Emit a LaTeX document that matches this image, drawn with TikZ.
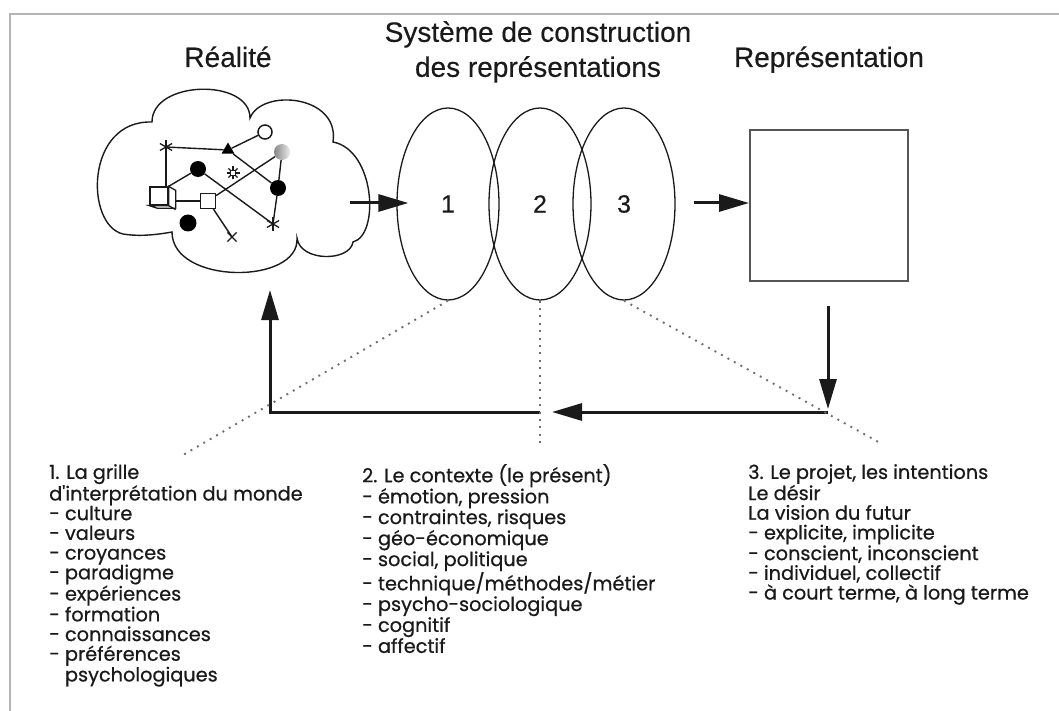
\documentclass[tikz,border=0pt]{standalone}
\usepackage{fontspec}
\setmainfont{Liberation Sans}
\newfontfamily\bodyfont[FakeBold=0.6]{Poppins}
\newfontfamily\titlefont[FakeBold=0.3]{Liberation Sans}
\usetikzlibrary{shapes.geometric,arrows.meta}
\definecolor{ink}{HTML}{1A1A1A}
\definecolor{framegray}{HTML}{B4B4B4}
\definecolor{dotgray}{HTML}{6E6E6E}
\definecolor{boxgray}{HTML}{555555}
\begin{document}
\begin{tikzpicture}[x=1pt,y=-1pt,
  net/.style={line width=1.4pt, draw=ink},
  arr/.style={line width=3pt, draw=ink, -{Triangle[length=30pt,width=17pt]}},
  dotline/.style={line width=1.9pt, draw=dotgray, dash pattern=on 1.9pt off 5.5pt},
  oval/.style={ellipse, draw=ink, line width=1.3pt, minimum width=102pt, minimum height=192pt, inner sep=0pt, font=\titlefont\fontsize{25}{25}\selectfont, text=ink},
  title/.style={font=\titlefont\fontsize{28}{35}\selectfont, text=ink, align=center, inner sep=0pt},
  body/.style={font=\bodyfont\fontsize{19.3}{19.7}\selectfont, text=ink, align=left, inner sep=0pt, anchor=north west},
  dot/.style={circle, fill=black, inner sep=0pt, minimum size=16pt},
]
\useasboundingbox (0,0) rectangle (1059,711);
\fill[white] (0,0) rectangle (1059,711);
\draw[framegray, line width=2.5pt] (10,711) -- (10,14) -- (1059,14);

% titles
\node[title, anchor=base] (tReal) at (228,67) {Réalité};
\node[title, anchor=north] (tSys) at (538,21) {Système de construction\\des représentations};
\node[title, anchor=base] (tRep) at (829,67) {Représentation};

% cloud
\draw[net] (152,122) .. controls (152,80) and (250,78) .. (250,118)
 .. controls (262,88) and (340,95) .. (333,142)
 .. controls (375,150) and (380,235) .. (353,242)
 .. controls (350,262) and (300,262) .. (297,238)
 .. controls (300,285) and (172,285) .. (172,232)
 .. controls (150,236) and (135,236) .. (123,234)
 .. controls (85,225) and (85,120) .. (152,122) -- cycle;

% network symbols
\coordinate (A1) at (166,147);
\node[regular polygon, regular polygon sides=3, fill=black, inner sep=0pt, minimum size=15pt] (T) at (228,150) {};
\node[circle, draw=ink, line width=1.5pt, fill=white, inner sep=0pt, minimum size=14pt] (O) at (265,132) {};
\node[circle, inner sep=0pt, minimum size=16pt, left color=gray!95, right color=gray!15] (G) at (282,152) {};
\node[dot] (B1) at (198,169) {};
\coordinate (S) at (233,173);
\node[dot] (B2) at (278,188) {};
\node[draw=ink, line width=1.3pt, fill=white, inner sep=0pt, minimum size=18pt] (C) at (159,196) {};
\node[draw=ink, line width=1.3pt, fill=white, inner sep=0pt, minimum size=15pt] (Q) at (208,201) {};
\node[dot, minimum size=17pt] (B3) at (188,223) {};
\coordinate (A2) at (273,224);
\coordinate (X) at (232,237);

% network lines
\draw[net] (A1) -- (T);
\draw[net] (A1) -- (A1 |- C.north);
\draw[net] (T) -- (O);
\draw[net] (T) -- (B2);
\draw[net] (G) -- (B2);
\draw[net] (G) -- (Q);
\draw[net] (B1) -- (A2);
\draw[net] (B2) -- (A2);
\draw[net] (C.north east) -- (B1);
\draw[net] ([xshift=7pt]C.east |- Q.west) -- (Q.west);
\draw[net] (Q) -- (X);

% cube depth
\draw[net, line width=1.3pt, fill=white] (C.north east) -- ++(7,4) -- ++(0,18) -- ++(-18,0) -- (C.south west) -- (C.south east) -- cycle;
\draw[net, line width=1.3pt] (C.south east) -- ++(7,4);

% asterisks and marks
\foreach \p in {A1,A2}
  \foreach \a in {30,90,150}
    \draw[net, line width=1.3pt] ([shift={(\a:7)}]\p) -- ([shift={(\a+180:7)}]\p);
\foreach \a in {0,45,90,135}
  \draw[net, line width=1.3pt] ([shift={(\a:6.5)}]S) -- ([shift={(\a+180:6.5)}]S);
\draw[net, line width=1.2pt, fill=white] ([shift={(-2.5,-2.5)}]S) rectangle ([shift={(2.5,2.5)}]S);
\foreach \a in {45,135}
  \draw[net, line width=1.3pt] ([shift={(\a:6.5)}]X) -- ([shift={(\a+180:6.5)}]X);

% ellipses
\node[oval] (e1) at (448,204) {1};
\node[oval] (e2) at (540,204) {2};
\node[oval] (e3) at (624,204) {3};

% representation box
\node[draw=boxgray, line width=2pt, minimum width=158pt, minimum height=151pt, inner sep=0pt] (box) at (829,205.5) {};

% arrows
\coordinate (a0) at (350,203);
\draw[arr] (a0) -- ([xshift=12pt]e1.west |- a0);
\draw[arr] ([xshift=18pt]e3.east |- a0) -- (box.west |- a0);

\coordinate (cR) at (828,412);
\coordinate (cM) at (540,412);
\coordinate (cL) at (270,412);
\coordinate (cUp) at (270,290);
\draw[arr] ([yshift=-24pt]box.south -| cR) -- ([yshift=3pt]cR);
\draw[arr] (cR) -- ([xshift=12pt]cM);
\draw[arr, line join=miter] (cM) -- (cL) -- (cUp);

% dotted leaders
\coordinate (d1) at (183,455);
\coordinate (d2) at (540,445);
\coordinate (d3) at (882,444);
\draw[dotline] (e1.south) -- (d1);
\draw[dotline] (e2.south) -- (d2);
\draw[dotline] (e3.south) -- (d3);

% texts
\node[body] (c1) at (49,464) {1. La grille\\d\symbol{39}interprétation du monde\\- culture\\- valeurs\\- croyances\\- paradigme\\- expériences\\- formation\\- connaissances\\- préférences\\\hphantom{- }psychologiques};
\node[body] (c2) at (362,464) {2. Le contexte (le présent)\\- émotion, pression\\- contraintes, risques\\- géo-économique\\- social, politique\\- technique/méthodes/métier\\- psycho-sociologique\\- cognitif\\- affectif};
\node[body] (c3) at (748,464) {3. Le projet, les intentions\\Le désir\\La vision du futur\\- explicite, implicite\\- conscient, inconscient\\- individuel, collectif\\- à court terme, à long terme};
\end{tikzpicture}
\end{document}
